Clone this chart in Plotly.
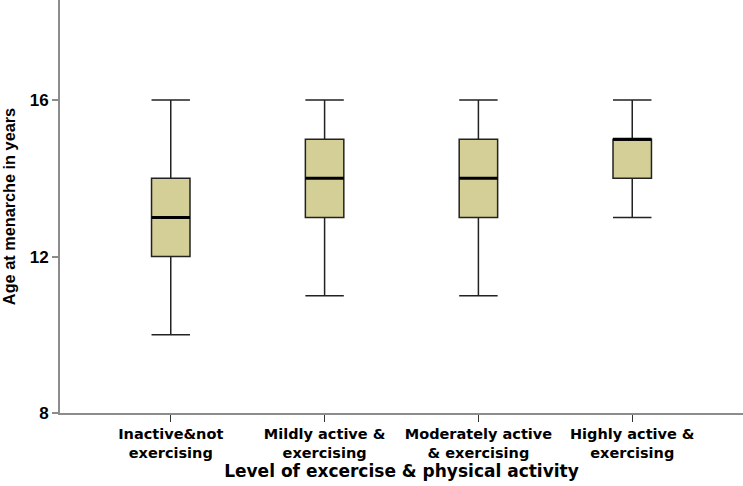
import plotly.graph_objects as go

# Box summaries
categories = ["Inactive&not<br>exercising", "Mildly active &<br>exercising",
              "Moderately active<br>& exercising", "Highly active &<br>exercising"]
lower = [10, 11, 11, 13]
q1 = [12, 13, 13, 14]
median = [13, 14, 14, 15]
q3 = [14, 15, 15, 15]
upper = [16, 16, 16, 16]

BOX_FILL = "#d4cf97"
AXIS = "#8c8c8c"
FONT = "Liberation Sans"
WIDE = "DejaVu Sans"
half = 0.125

fig = go.Figure()
for i in range(len(categories)):
    fig.add_trace(go.Box(
        x=[i], q1=[q1[i]], median=[median[i]], q3=[q3[i]],
        lowerfence=[lower[i]], upperfence=[upper[i]],
        width=2 * half, whiskerwidth=1,
        fillcolor=BOX_FILL, line=dict(color="#222222", width=1.5),
        boxpoints=False, showlegend=False, hoverinfo="skip",
    ))
    # thicker median bar
    fig.add_trace(go.Scatter(
        x=[i - half, i + half], y=[median[i], median[i]], mode="lines",
        line=dict(color="#000000", width=3), showlegend=False, hoverinfo="skip",
    ))

fig.update_layout(
    width=743, height=486,
    paper_bgcolor="white", plot_bgcolor="white",
    margin=dict(l=60, r=0, t=0, b=73),
    font=dict(family=FONT, color="#000000"),
    xaxis=dict(
        range=[-0.72, 3.72], tickmode="array", automargin=False,
        tickvals=list(range(len(categories))), ticktext=[f"<b>{c}</b>" for c in categories],
        tickfont=dict(size=14.5, family=WIDE), showgrid=False, zeroline=False,
        showline=True, linecolor=AXIS, linewidth=2,
        ticks="outside", ticklen=7, tickcolor="#333333", tickwidth=1,
        title=dict(text="<b>Level of excercise & physical activity</b>",
                   font=dict(size=17, family=WIDE), standoff=2),
    ),
    yaxis=dict(
        range=[8, 18.56], tickvals=[8, 12, 16], automargin=False,
        ticktext=["<b>8</b>", "<b>12</b>", "<b>16</b>"],
        tickfont=dict(size=17, family=FONT), showgrid=False, zeroline=False,
        showline=True, linecolor=AXIS, linewidth=2,
        ticks="outside", ticklen=6, tickcolor=AXIS, tickwidth=1.5,
        title=dict(text="<b>Age at menarche in years</b>",
                   font=dict(size=16.3, family=FONT), standoff=10),
    ),
)

fig.write_html("out.html", config={"displayModeBar": False},
               post_script="document.body.style.margin='0';")
